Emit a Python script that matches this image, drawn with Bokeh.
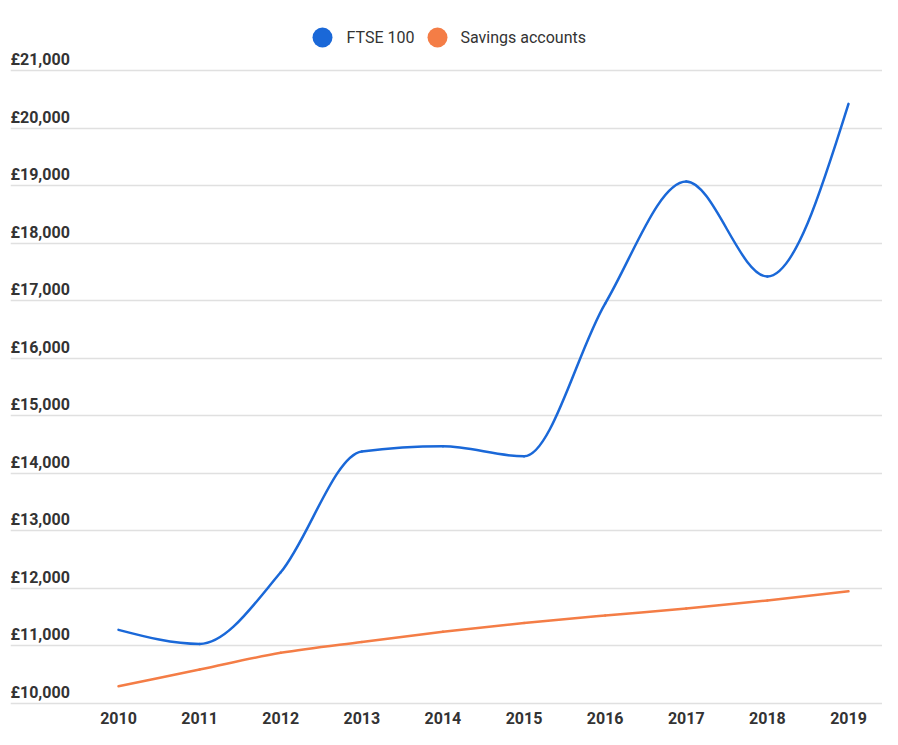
import numpy as np
from bokeh.plotting import figure
from bokeh.models import FixedTicker, Range1d, Grid, ColumnDataSource
from bokeh.core.properties import value
from bokeh.embed import file_html
from bokeh.resources import INLINE

# ---------------- data ----------------
years = [2010, 2011, 2012, 2013, 2014, 2015, 2016, 2017, 2018, 2019]
ftse = [11280, 11035, 12280, 14380, 14470, 14295, 16950, 19070, 17420, 20420]
savings = [10300, 10590, 10880, 11070, 11245, 11400, 11530, 11650, 11790, 11950]
series_names = ["FTSE 100", "Savings accounts"]
series_colors = ["#1a68d8", "#f47d46"]
y_ticks = list(range(10000, 21001, 1000))
y_tick_labels = [f"£{v:,}" for v in y_ticks]

# ---------------- layout ----------------
W, H = 882, 729
BL, BR, BT, BB = 10, 0, 0, 24
FRAME_W = W - BL - BR
FRAME_H = H - BT - BB
X0 = 2008.6685
X1 = X0 + FRAME_W / 81.111
Y0, Y1 = 9965.25, 22215.5
FONT = "Roboto"
TEXT_COLOR = "#333333"


def px2x(px):
    return X0 + (px - BL) / FRAME_W * (X1 - X0)


def py2y(py):
    return Y0 + ((BT + FRAME_H) - py) / FRAME_H * (Y1 - Y0)


p = figure(width=W, height=H, output_backend="svg", toolbar_location=None,
           x_range=Range1d(X0, X1), y_range=Range1d(Y0, Y1),
           y_axis_location=None,
           min_border_left=BL, min_border_right=BR,
           min_border_top=BT, min_border_bottom=BB)
p.outline_line_color = None
p.background_fill_color = "white"
p.border_fill_color = "white"
for g in p.grid:
    g.visible = False

grid = Grid(dimension=1, ticker=FixedTicker(ticks=y_ticks),
            grid_line_color="#e0e0e0", grid_line_width=1.6)
p.add_layout(grid, "center")

ax = p.xaxis[0]
ax.ticker = FixedTicker(ticks=years)
ax.axis_line_color = None
ax.major_tick_line_color = None
ax.minor_tick_line_color = None
ax.major_tick_out = 0
ax.major_tick_in = 0
ax.minor_tick_out = 0
ax.major_label_text_font = FONT
ax.major_label_text_font_size = "16px"
ax.major_label_text_font_style = "bold"
ax.major_label_text_color = TEXT_COLOR
ax.major_label_standoff = 6

# y labels, above gridlines, left aligned inside the frame
p.text(x=[X0] * len(y_ticks), y=y_ticks, text=y_tick_labels,
       text_font=value(FONT), text_font_size="16px", text_font_style="bold",
       text_color=TEXT_COLOR, text_align="left", text_baseline="alphabetic",
       y_offset=-11)


def monotone_slopes(xs, ys):
    n = len(xs)
    h = [xs[i + 1] - xs[i] for i in range(n - 1)]
    s = [(ys[i + 1] - ys[i]) / h[i] for i in range(n - 1)]
    m = [0.0] * n
    for i in range(1, n - 1):
        s0, s1 = s[i - 1], s[i]
        pp = (s0 * h[i] + s1 * h[i - 1]) / (h[i - 1] + h[i])
        m[i] = (np.sign(s0) + np.sign(s1)) * min(abs(s0), abs(s1), 0.5 * abs(pp))
    m[0] = (3 * s[0] - m[1]) / 2
    m[-1] = (3 * s[-1] - m[-2]) / 2
    return m


def smooth_line(xs, ys, color):
    m = monotone_slopes(xs, ys)
    d = dict(x0=[], y0=[], x1=[], y1=[], cx0=[], cy0=[], cx1=[], cy1=[])
    for i in range(len(xs) - 1):
        dx = (xs[i + 1] - xs[i]) / 3
        d["x0"].append(xs[i]); d["y0"].append(ys[i])
        d["x1"].append(xs[i + 1]); d["y1"].append(ys[i + 1])
        d["cx0"].append(xs[i] + dx); d["cy0"].append(ys[i] + m[i] * dx)
        d["cx1"].append(xs[i + 1] - dx); d["cy1"].append(ys[i + 1] - m[i + 1] * dx)
    p.bezier(x0="x0", y0="y0", x1="x1", y1="y1", cx0="cx0", cy0="cy0",
             cx1="cx1", cy1="cy1", source=ColumnDataSource(d),
             line_color=color, line_width=2.5, line_cap="round")


smooth_line(years, savings, series_colors[1])
smooth_line(years, ftse, series_colors[0])

# legend (top, centred)
leg_circle_px = [322, 437]
leg_text_px = [346, 460]
leg_y = py2y(37)
p.scatter(x=[px2x(v) for v in leg_circle_px], y=[leg_y] * 2, size=20,
          marker="circle", fill_color=series_colors, line_color=None)
p.text(x=[px2x(v) for v in leg_text_px], y=[leg_y] * 2, text=series_names,
       text_font=value(FONT), text_font_size="16px", text_font_style="normal",
       text_color=TEXT_COLOR, text_align="left", text_baseline="middle")

open("out.html", "w").write(file_html(p, INLINE))
